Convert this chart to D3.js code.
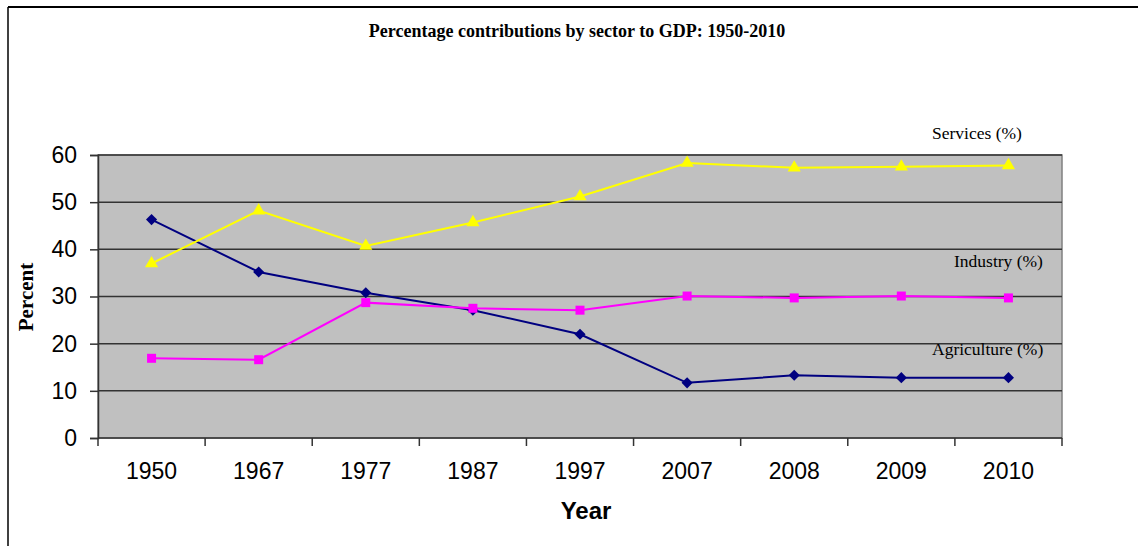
<!DOCTYPE html>
<html>
<head>
<meta charset="utf-8">
<script src="https://cdn.jsdelivr.net/npm/d3@7"></script>
<style>
  html, body { margin: 0; padding: 0; background: #fff; }
  svg { display: block; }
</style>
</head>
<body>
<svg id="chart" width="1138" height="546"></svg>
<script>
// Sector shares of GDP by year
const years = ["1950", "1967", "1977", "1987", "1997", "2007", "2008", "2009", "2010"];
const agriculture = [46.3, 35.2, 30.8, 27.1, 22.0, 11.7, 13.3, 12.8, 12.8];
const industry    = [16.9, 16.6, 28.7, 27.5, 27.1, 30.1, 29.7, 30.1, 29.7];
const services    = [37.0, 48.2, 40.7, 45.7, 51.2, 58.3, 57.3, 57.5, 57.8];
const yTicks = [0, 10, 20, 30, 40, 50, 60];

const series = [
  { name: "Agriculture (%)", values: agriculture, color: "#000080", marker: d3.symbolSquare,   size: 62, rotate: 45, lx: 932, ly: 355 },
  { name: "Industry (%)",    values: industry,    color: "#FF00FF", marker: d3.symbolSquare,   size: 81, rotate: 0,  lx: 954, ly: 267 },
  { name: "Services (%)",    values: services,    color: "#FFFF00", marker: d3.symbolTriangle, size: 75, rotate: 0,  lx: 932, ly: 139 }
];

const svg = d3.select("#chart");
const plotLeft = 98, plotRight = 1062, plotTop = 155, plotBottom = 438;

const x = d3.scaleBand().domain(years).range([plotLeft, plotRight]);
const y = d3.scaleLinear().domain([0, 60]).range([plotBottom, plotTop]);

const serif = "Liberation Serif, Times New Roman, serif";
const sans = "Liberation Sans, Arial, sans-serif";

// Outer frame (top and left edges visible)
svg.append("line").attr("x1", 8).attr("x2", 1138).attr("y1", 7).attr("y2", 7)
  .attr("stroke", "#000").attr("stroke-width", 2);
svg.append("line").attr("x1", 8).attr("x2", 8).attr("y1", 7).attr("y2", 546)
  .attr("stroke", "#000").attr("stroke-width", 1.5);

// Title
svg.append("text").attr("x", 577).attr("y", 37).attr("text-anchor", "middle")
  .attr("font-family", serif).attr("font-weight", "bold").attr("font-size", 18)
  .text("Percentage contributions by sector to GDP: 1950-2010");

// Plot area
svg.append("rect").attr("x", plotLeft).attr("y", plotTop)
  .attr("width", plotRight - plotLeft).attr("height", plotBottom - plotTop)
  .attr("fill", "#C0C0C0").attr("stroke", "#808080").attr("stroke-width", 1.5);

// Horizontal gridlines
svg.append("g").selectAll("line").data(yTicks.filter(t => t > 0)).join("line")
  .attr("x1", plotLeft).attr("x2", plotRight)
  .attr("y1", d => y(d)).attr("y2", d => y(d))
  .attr("stroke", "#333").attr("stroke-width", 1.5);

// Y axis
const yAxis = svg.append("g").attr("transform", `translate(${plotLeft},0)`)
  .call(d3.axisLeft(y).tickValues(yTicks).tickSize(8).tickPadding(13));
yAxis.select(".domain").attr("stroke", "#333").attr("stroke-width", 1.5);
yAxis.selectAll(".tick line").attr("stroke", "#333").attr("stroke-width", 1.5);
yAxis.selectAll("text").attr("font-family", sans).attr("font-size", 23).attr("fill", "#000");

// X axis with ticks between categories
const xAxis = svg.append("g").attr("transform", `translate(0,${plotBottom})`);
xAxis.append("line").attr("x1", plotLeft).attr("x2", plotRight).attr("stroke", "#333").attr("stroke-width", 1.5);
const bounds = years.map(d => x(d)).concat([plotRight]);
xAxis.selectAll(".tk").data(bounds).join("line").attr("class", "tk")
  .attr("x1", d => d).attr("x2", d => d).attr("y1", 0).attr("y2", 8)
  .attr("stroke", "#333").attr("stroke-width", 1.5);
xAxis.selectAll("text").data(years).join("text")
  .attr("x", d => x(d) + x.bandwidth() / 2).attr("y", 41)
  .attr("text-anchor", "middle")
  .attr("font-family", sans).attr("font-size", 23)
  .text(d => d);

// Axis titles
svg.append("text").attr("x", 586).attr("y", 519).attr("text-anchor", "middle")
  .attr("font-family", sans).attr("font-weight", "bold").attr("font-size", 24).text("Year");
svg.append("text").attr("transform", "translate(33,297) rotate(-90)").attr("text-anchor", "middle")
  .attr("font-family", serif).attr("font-weight", "bold").attr("font-size", 21).text("Percent");

// Lines, markers and labels
const cx = i => x(years[i]) + x.bandwidth() / 2;
const line = d3.line().x((d, i) => cx(i)).y(d => y(d));

series.forEach(s => {
  svg.append("path").datum(s.values).attr("d", line)
    .attr("fill", "none").attr("stroke", s.color).attr("stroke-width", 2);
  svg.append("g").selectAll("path").data(s.values).join("path")
    .attr("transform", (d, i) => `translate(${cx(i)},${y(d)}) rotate(${s.rotate})`)
    .attr("d", d3.symbol().type(s.marker).size(s.size))
    .attr("fill", s.color);
  svg.append("text").attr("x", s.lx).attr("y", s.ly)
    .attr("font-family", serif).attr("font-size", 17.5)
    .attr("fill", "#000").text(s.name);
});
</script>
</body>
</html>
